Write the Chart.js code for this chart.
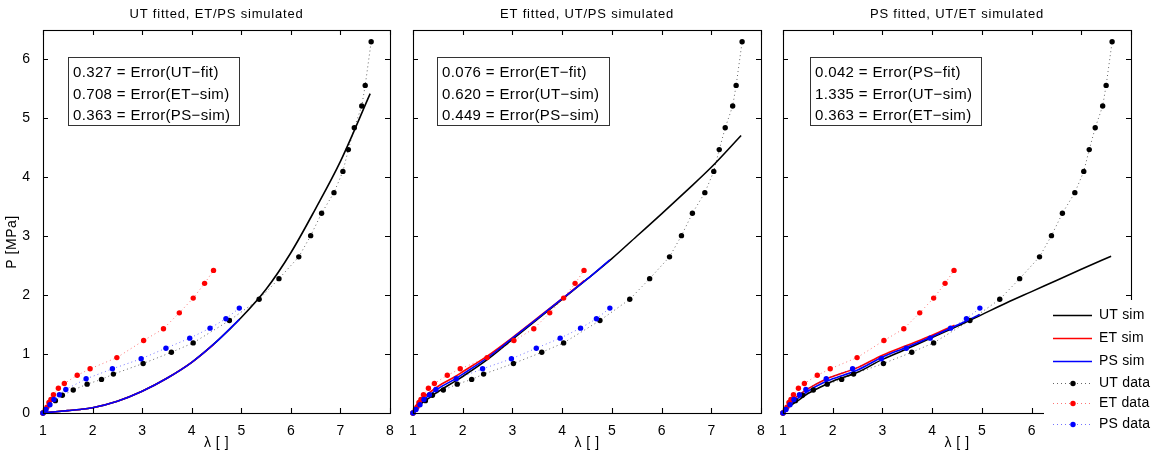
<!DOCTYPE html>
<html>
<head>
<meta charset="utf-8">
<script src="https://cdn.jsdelivr.net/npm/chart.js@4.4.1/dist/chart.umd.min.js"></script>
<style>
  html,body{margin:0;padding:0;background:#fff;}
  #wrap{position:relative;width:1157px;height:457px;overflow:hidden;background:#fff;}
  canvas{position:absolute;top:0;}
</style>
</head>
<body>
<div id="wrap">
  <canvas id="c1" width="402" height="457" style="left:0px"></canvas>
  <canvas id="c2" width="370" height="457" style="left:402px"></canvas>
  <canvas id="c3" width="385" height="457" style="left:772px"></canvas>
</div>
<script>
// ---------- measured data (same in all three panels) ----------
const utLam = [1.00, 1.25, 1.39, 1.61, 1.89, 2.18, 2.42, 3.02, 3.59, 4.03, 4.76, 5.36, 5.76, 6.16, 6.40, 6.62, 6.87, 7.05, 7.16, 7.28, 7.43, 7.50, 7.62];
const utP   = [0.00, 0.21, 0.30, 0.39, 0.49, 0.57, 0.66, 0.84, 1.03, 1.19, 1.57, 1.93, 2.28, 2.65, 3.01, 3.39, 3.74, 4.10, 4.47, 4.84, 5.21, 5.56, 6.30];
const etLam = [1.00, 1.05, 1.08, 1.12, 1.16, 1.21, 1.31, 1.43, 1.69, 1.95, 2.49, 3.03, 3.43, 3.75, 4.03, 4.26, 4.44];
const etP   = [0.00, 0.06, 0.10, 0.18, 0.23, 0.31, 0.42, 0.50, 0.64, 0.75, 0.94, 1.23, 1.43, 1.70, 1.95, 2.20, 2.42];
const psLam = [1.00, 1.06, 1.14, 1.22, 1.33, 1.46, 1.87, 2.40, 2.98, 3.48, 3.96, 4.37, 4.69, 4.96];
const psP   = [0.00, 0.06, 0.14, 0.23, 0.31, 0.40, 0.58, 0.75, 0.92, 1.10, 1.27, 1.44, 1.60, 1.78];

// ---------- simulated curves ----------
// panel 1: UT fitted
const p1UtSimLam = [1.00, 1.25, 1.50, 1.75, 2.00, 2.50, 3.00, 3.50, 4.00, 4.50, 5.00, 5.50, 6.00, 6.50, 7.00, 7.60];
const p1UtSimP   = [0.00, 0.02, 0.04, 0.06, 0.09, 0.20, 0.37, 0.59, 0.86, 1.21, 1.62, 2.10, 2.72, 3.47, 4.27, 5.42];
const p1EtSimLam = [1.00, 1.25, 1.50, 1.75, 2.00, 2.50, 3.00, 3.50, 4.00, 4.45];
const p1EtSimP   = [0.00, 0.02, 0.04, 0.06, 0.09, 0.20, 0.37, 0.59, 0.86, 1.17];
const p1PsSimLam = [1.00, 1.25, 1.50, 1.75, 2.00, 2.50, 3.00, 3.50, 4.00, 4.50, 4.96];
const p1PsSimP   = [0.00, 0.02, 0.04, 0.06, 0.09, 0.20, 0.37, 0.59, 0.86, 1.21, 1.59];
// panel 2: ET fitted
const p2UtSimLam = [1.00, 1.05, 1.10, 1.25, 1.50, 1.85, 2.00, 2.50, 3.00, 3.50, 4.00, 4.50, 5.00, 5.50, 6.00, 6.50, 7.00, 7.60];
const p2UtSimP   = [0.00, 0.07, 0.12, 0.21, 0.36, 0.54, 0.62, 0.91, 1.25, 1.59, 1.93, 2.27, 2.62, 3.00, 3.38, 3.77, 4.17, 4.71];
const p2EtSimLam = [1.00, 1.05, 1.10, 1.25, 1.50, 1.85, 2.00, 2.50, 3.00, 3.50, 4.00, 4.45];
const p2EtSimP   = [0.00, 0.11, 0.17, 0.29, 0.45, 0.62, 0.70, 0.97, 1.28, 1.61, 1.94, 2.25];
const p2PsSimLam = [1.00, 1.05, 1.10, 1.25, 1.50, 1.85, 2.00, 2.50, 3.00, 3.50, 4.00, 4.50, 4.96];
const p2PsSimP   = [0.00, 0.09, 0.15, 0.25, 0.41, 0.58, 0.66, 0.94, 1.27, 1.60, 1.94, 2.27, 2.60];
// panel 3: PS fitted
const p3UtSimLam = [1.00, 1.05, 1.10, 1.25, 1.50, 1.85, 2.00, 2.50, 3.00, 3.50, 4.00, 4.50, 5.00, 5.50, 6.00, 6.50, 7.00, 7.60];
const p3UtSimP   = [0.00, 0.06, 0.10, 0.18, 0.33, 0.48, 0.54, 0.69, 0.91, 1.09, 1.28, 1.47, 1.67, 1.87, 2.06, 2.25, 2.44, 2.66];
const p3EtSimLam = [1.00, 1.05, 1.10, 1.25, 1.50, 1.85, 2.00, 2.50, 3.00, 3.50, 4.00, 4.45];
const p3EtSimP   = [0.00, 0.09, 0.14, 0.26, 0.41, 0.57, 0.62, 0.77, 0.98, 1.15, 1.32, 1.49];
const p3PsSimLam = [1.00, 1.05, 1.10, 1.25, 1.50, 1.85, 2.00, 2.50, 3.00, 3.50, 4.00, 4.50, 4.96];
const p3PsSimP   = [0.00, 0.08, 0.12, 0.22, 0.37, 0.53, 0.58, 0.73, 0.95, 1.12, 1.30, 1.49, 1.67];

// ---------- ticks / labels ----------
const xTicks = [1, 2, 3, 4, 5, 6, 7, 8];
const yTicks = [0, 1, 2, 3, 4, 5, 6];
const titles = ["UT fitted, ET/PS simulated", "ET fitted, UT/PS simulated", "PS fitted, UT/ET simulated"];
const errText1 = ["0.327 = Error(UT\u2212fit)", "0.708 = Error(ET\u2212sim)", "0.363 = Error(PS\u2212sim)"];
const errText2 = ["0.076 = Error(ET\u2212fit)", "0.620 = Error(UT\u2212sim)", "0.449 = Error(PS\u2212sim)"];
const errText3 = ["0.042 = Error(PS\u2212fit)", "1.335 = Error(UT\u2212sim)", "0.363 = Error(ET\u2212sim)"];
const legendLabels = ["UT sim", "ET sim", "PS sim", "UT data", "ET data", "PS data"];

const FONT = '"Liberation Sans", Arial, Helvetica, sans-serif';
Chart.defaults.font.family = FONT;
Chart.defaults.color = '#000';

function pts(xs, ys) { return xs.map((x, i) => ({x: x, y: ys[i]})); }

function simDs(label, xs, ys, color, order) {
  return {label, data: pts(xs, ys), showLine: true, borderColor: color, backgroundColor: color,
    borderWidth: 1.6, pointRadius: 0, cubicInterpolationMode: 'monotone', order, clip: false, kind: 'sim'};
}
function dataDs(label, xs, ys, color, lineColor, order) {
  return {label, data: pts(xs, ys), showLine: true, borderColor: lineColor, borderWidth: 1,
    borderDash: [1, 3], pointRadius: 2.7, pointBackgroundColor: color, pointBorderWidth: 0,
    pointBorderColor: color, backgroundColor: color, order, clip: false, kind: 'data'};
}

function setLS(ctx, v) { if ('letterSpacing' in ctx) ctx.letterSpacing = v; }

const decorPlugin = {
  id: 'decor',
  afterDatasetsDraw(chart, args, o) {
    const ctx = chart.ctx, a = chart.chartArea;
    const xs = chart.scales.x, ys = chart.scales.y;
    ctx.save();
    // box
    ctx.strokeStyle = '#000'; ctx.lineWidth = 1.1;
    ctx.strokeRect(Math.round(a.left) + 0.5, Math.round(a.top) + 0.5, Math.round(a.right - a.left), Math.round(a.bottom - a.top));
    // inward ticks
    ctx.beginPath();
    xTicks.forEach(v => {
      const p = Math.round(xs.getPixelForValue(v)) + 0.5;
      ctx.moveTo(p, a.bottom); ctx.lineTo(p, a.bottom - 5);
      ctx.moveTo(p, a.top); ctx.lineTo(p, a.top + 5);
    });
    yTicks.forEach(v => {
      const p = Math.round(ys.getPixelForValue(v)) + 0.5;
      ctx.moveTo(a.left, p); ctx.lineTo(a.left + 5, p);
      ctx.moveTo(a.right, p); ctx.lineTo(a.right - 5, p);
    });
    ctx.stroke();
    // title
    ctx.fillStyle = '#000';
    ctx.font = '13px ' + FONT; setLS(ctx, '0.8px');
    ctx.textAlign = 'center'; ctx.textBaseline = 'middle';
    ctx.fillText(o.title, (a.left + a.right) / 2, 14);
    // x axis title
    ctx.font = '14px ' + FONT; setLS(ctx, '0.5px');
    ctx.fillText('\u03bb [ ]', (a.left + a.right) / 2, 443);
    // y axis title
    if (o.yTitle) {
      ctx.save();
      ctx.translate(12, 242); ctx.rotate(-Math.PI / 2);
      ctx.fillText('P [MPa]', 0, 0);
      ctx.restore();
    }
    // error text box
    const bx = Math.round(a.left + o.boxDx), by = 57, bw = o.boxW, bh = 68;
    ctx.fillStyle = '#fff'; ctx.fillRect(bx, by, bw, bh);
    ctx.strokeStyle = '#333'; ctx.lineWidth = 1;
    ctx.strokeRect(bx + 0.5, by + 0.5, bw, bh);
    ctx.fillStyle = '#000'; ctx.textAlign = 'left';
    ctx.font = '15px ' + FONT; setLS(ctx, '0.35px');
    o.lines.forEach((t, i) => ctx.fillText(t, bx + 5, by + 16 + i * 21.5));
    setLS(ctx, '0px');
    ctx.restore();
  },
  afterDraw(chart, args, o) {
    if (!o.legend) return;
    const ctx = chart.ctx;
    const off = o.canvasLeft;
    ctx.save();
    ctx.fillStyle = '#fff';
    ctx.fillRect(1044 - off, 300, 200, 150);
    const rows = [315, 338, 361, 383, 403, 424];
    const ds = chart.data.datasets;
    const byLabel = {};
    ds.forEach(d => byLabel[d.label] = d);
    ctx.font = '14px ' + FONT; setLS(ctx, '0.2px');
    ctx.textBaseline = 'middle'; ctx.textAlign = 'left';
    legendLabels.forEach((lab, i) => {
      const d = byLabel[lab], y = rows[i] + 0.5;
      const x0 = 1053 - off, x1 = 1092 - off;
      ctx.beginPath();
      ctx.strokeStyle = d.borderColor;
      ctx.lineWidth = d.borderWidth;
      ctx.setLineDash(d.kind === 'data' ? [1, 3] : []);
      ctx.moveTo(x0, y); ctx.lineTo(x1, y); ctx.stroke();
      ctx.setLineDash([]);
      if (d.kind === 'data') {
        ctx.fillStyle = d.pointBackgroundColor;
        ctx.beginPath(); ctx.arc(1073 - off, y, 2.7, 0, Math.PI * 2); ctx.fill();
      }
      ctx.fillStyle = '#000';
      ctx.fillText(lab, 1099 - off, y);
    });
    setLS(ctx, '0px');
    ctx.restore();
  }
};

function makePanel(id, sims, opts) {
  const datasets = [
    simDs('UT sim', sims[0][0], sims[0][1], '#000000', 6),
    simDs('ET sim', sims[1][0], sims[1][1], '#ff0000', 5),
    simDs('PS sim', sims[2][0], sims[2][1], '#0000ff', 4),
    dataDs('UT data', utLam, utP, '#000000', 'rgba(0,0,0,0.6)', 3),
    dataDs('ET data', etLam, etP, '#ff0000', 'rgba(255,0,0,0.55)', 2),
    dataDs('PS data', psLam, psP, '#0000ff', 'rgba(0,0,255,0.55)', 1)
  ];
  return new Chart(document.getElementById(id), {
    type: 'scatter',
    data: {datasets},
    plugins: [decorPlugin],
    options: {
      responsive: false, animation: false, devicePixelRatio: 1,
      layout: {padding: {left: 0, right: opts.padR, top: 30, bottom: 0}},
      plugins: {legend: {display: false}, tooltip: {enabled: false}, title: {display: false},
        decor: opts.decor},
      scales: {
        x: {type: 'linear', min: 1, max: 8,
          afterBuildTicks: s => { s.ticks = xTicks.map(v => ({value: v})); },
          afterFit: s => { s.height = 44; },
          grid: {display: false}, border: {display: false},
          ticks: {padding: 2, color: '#000', font: {size: 14}, maxRotation: 0, autoSkip: false}},
        y: {type: 'linear', min: 0, max: 6.5,
          afterBuildTicks: s => { s.ticks = yTicks.map(v => ({value: v})); },
          afterFit: s => { s.width = opts.yw; },
          grid: {display: false}, border: {display: false},
          ticks: {padding: 5, color: '#000', font: {size: 14}, autoSkip: false,
            callback: opts.yLabels ? (v => String(v)) : (() => '')}}
      }
    }
  });
}

makePanel('c1', [[p1UtSimLam, p1UtSimP], [p1EtSimLam, p1EtSimP], [p1PsSimLam, p1PsSimP]],
  {padR: 12, yw: 43, yLabels: true,
   decor: {title: titles[0], yTitle: true, lines: errText1, boxDx: 25, boxW: 171, legend: false, canvasLeft: 0}});
makePanel('c2', [[p2UtSimLam, p2UtSimP], [p2EtSimLam, p2EtSimP], [p2PsSimLam, p2PsSimP]],
  {padR: 11, yw: 11, yLabels: false,
   decor: {title: titles[1], yTitle: false, lines: errText2, boxDx: 24, boxW: 172, legend: false, canvasLeft: 402}});
makePanel('c3', [[p3UtSimLam, p3UtSimP], [p3EtSimLam, p3EtSimP], [p3PsSimLam, p3PsSimP]],
  {padR: 26, yw: 11, yLabels: false,
   decor: {title: titles[2], yTitle: false, lines: errText3, boxDx: 27, boxW: 171, legend: true, canvasLeft: 772}});
</script>
</body>
</html>
